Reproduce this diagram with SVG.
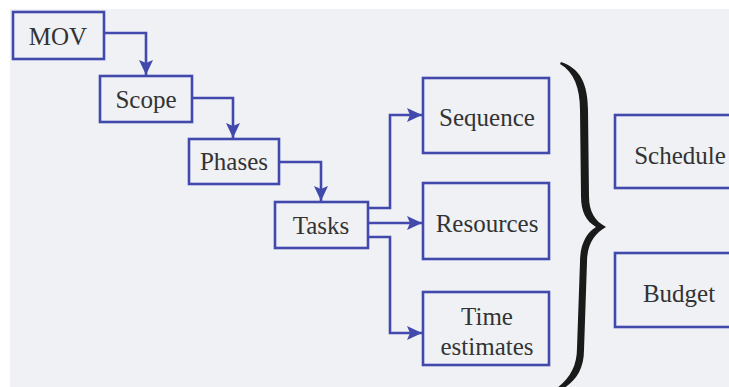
<svg xmlns="http://www.w3.org/2000/svg" width="729" height="387" viewBox="0 0 729 387">
<defs>
<style>
.box{fill:none;stroke:#4249ad;stroke-width:2.6}
.lbl{font-family:"Liberation Serif","Times New Roman",serif;font-size:25px;fill:#333333;text-anchor:middle}
.con{fill:none;stroke:#4249ad;stroke-width:2.6}
</style>
<marker id="ah" markerUnits="userSpaceOnUse" markerWidth="16" markerHeight="14" refX="15" refY="7" orient="auto">
<path d="M0,0 L15,7 L0,14 L3,7 Z" fill="#4249ad"/>
</marker>
</defs>
<rect x="0" y="0" width="729" height="387" fill="#ffffff"/>
<rect x="10" y="9" width="719" height="378" fill="#eff1f4"/>
<g id="mov"><rect class="box" x="13" y="12" width="91" height="47"/><text class="lbl" x="58" y="45">MOV</text></g>
<g id="scope"><rect class="box" x="100" y="76" width="92" height="46"/><text class="lbl" x="146" y="108">Scope</text></g>
<g id="phases"><rect class="box" x="189" y="139" width="90" height="45"/><text class="lbl" x="234" y="170">Phases</text></g>
<g id="tasks"><rect class="box" x="275" y="202" width="93" height="46"/><text class="lbl" x="321" y="234">Tasks</text></g>
<g id="sequence"><rect class="box" x="423" y="78" width="126" height="75"/><text class="lbl" x="487" y="126">Sequence</text></g>
<g id="resources"><rect class="box" x="423" y="183" width="126" height="76"/><text class="lbl" x="487" y="232">Resources</text></g>
<g id="time"><rect class="box" x="423" y="292" width="126" height="73"/><text class="lbl" x="487" y="325">Time</text><text class="lbl" x="487" y="355">estimates</text></g>
<g id="schedule"><rect class="box" x="615" y="115" width="120" height="73"/><text class="lbl" x="680" y="164">Schedule</text></g>
<g id="budget"><rect class="box" x="615" y="253" width="120" height="74"/><text class="lbl" x="679" y="302">Budget</text></g>
<g id="connectors">
<path class="con" d="M104 33 H146 V75" marker-end="url(#ah)"/>
<path class="con" d="M192 98 H233 V138" marker-end="url(#ah)"/>
<path class="con" d="M279 162 H321 V201" marker-end="url(#ah)"/>
<path class="con" d="M368 208 H390 V115 H422" marker-end="url(#ah)"/>
<path class="con" d="M368 223 H422" marker-end="url(#ah)"/>
<path class="con" d="M368 237 H390 V333 H422" marker-end="url(#ah)"/>
</g>
<g id="brace">
<path fill="#1a1a1a" d="M561 62 C580 68 588 84 588 110 L589 196 C589 212 595 221 606 227 C595 233 587 244 587 262 L584 350 C584 370 575 382 561 390 L557 388 C570 378 577 366 577 348 L580 262 C580 245 586 233 596 227 C586 221 581 212 581 196 L580 110 C580 88 574 72 560 64 Z"/>
</g>
</svg>
